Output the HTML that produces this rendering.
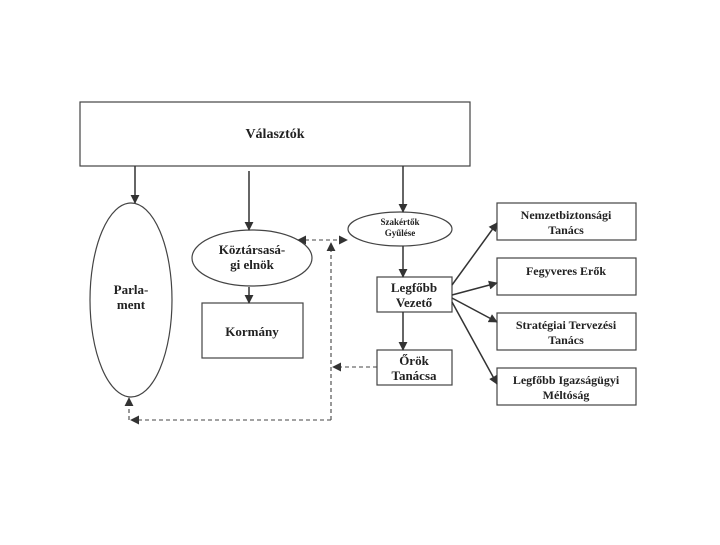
<!DOCTYPE html>
<html><head><meta charset="utf-8"><style>
html,body{margin:0;padding:0;background:#fff;}
svg text{font-family:"Liberation Serif",serif;font-weight:bold;fill:#222;text-anchor:middle;}
</style></head><body>
<svg width="720" height="540" viewBox="0 0 720 540" xmlns="http://www.w3.org/2000/svg">
<defs>
<marker id="a" viewBox="0 0 10 10" refX="9" refY="5" markerWidth="9" markerHeight="9" markerUnits="userSpaceOnUse" orient="auto-start-reverse"><path d="M0,0 L10,5 L0,10 z" fill="#333"/></marker>
</defs>
<g stroke="#444" stroke-width="1.2" fill="none">
<rect x="80" y="102" width="390" height="64"/>
<ellipse cx="131" cy="300" rx="41" ry="97"/>
<ellipse cx="252" cy="258" rx="60" ry="28"/>
<rect x="202" y="303" width="101" height="55"/>
<ellipse cx="400" cy="229" rx="52" ry="17"/>
<rect x="377" y="277" width="75" height="35"/>
<rect x="377" y="350" width="75" height="35"/>
<rect x="497" y="203" width="139" height="37"/>
<rect x="497" y="258" width="139" height="37"/>
<rect x="497" y="313" width="139" height="37"/>
<rect x="497" y="368" width="139" height="37"/>
</g>
<g stroke="#333" stroke-width="1.5" fill="none" marker-end="url(#a)">
<line x1="135" y1="166" x2="135" y2="203"/>
<line x1="249" y1="171" x2="249" y2="230"/>
<line x1="249" y1="287" x2="249" y2="303"/>
<line x1="403" y1="166" x2="403" y2="212"/>
<line x1="403" y1="246" x2="403" y2="277"/>
<line x1="403" y1="312" x2="403" y2="350"/>
<line x1="452" y1="285" x2="497" y2="223"/>
<line x1="452" y1="295" x2="497" y2="283"/>
<line x1="452" y1="298" x2="497" y2="322"/>
<line x1="452" y1="302" x2="497" y2="384"/>
</g>
<g stroke="#444" stroke-width="1.1" fill="none" stroke-dasharray="4,3">
<line x1="298" y1="240" x2="347" y2="240" marker-start="url(#a)" marker-end="url(#a)"/>
<line x1="331" y1="420" x2="331" y2="243" marker-end="url(#a)"/>
<line x1="331" y1="420" x2="131" y2="420" marker-end="url(#a)"/>
<line x1="129" y1="420" x2="129" y2="398" marker-end="url(#a)"/>
<line x1="377" y1="367" x2="333" y2="367" marker-end="url(#a)"/>
</g>
<text x="275" y="138" font-size="14">Választók</text>
<text x="131" y="294" font-size="13">Parla-</text>
<text x="131" y="309" font-size="13">ment</text>
<text x="252" y="254" font-size="13">Köztársasá-</text>
<text x="252" y="269" font-size="13">gi elnök</text>
<text x="252" y="336" font-size="13">Kormány</text>
<text x="400" y="225" font-size="9">Szakértők</text>
<text x="400" y="236" font-size="9">Gyűlése</text>
<text x="414" y="292" font-size="13">Legfőbb</text>
<text x="414" y="307" font-size="13">Vezető</text>
<text x="414" y="365" font-size="13">Őrök</text>
<text x="414" y="380" font-size="13">Tanácsa</text>
<text x="566" y="219" font-size="12">Nemzetbiztonsági</text>
<text x="566" y="234" font-size="12">Tanács</text>
<text x="566" y="275" font-size="12">Fegyveres Erők</text>
<text x="566" y="329" font-size="12">Stratégiai Tervezési</text>
<text x="566" y="344" font-size="12">Tanács</text>
<text x="566" y="384" font-size="12">Legfőbb Igazságügyi</text>
<text x="566" y="399" font-size="12">Méltóság</text>
</svg>
</body></html>
